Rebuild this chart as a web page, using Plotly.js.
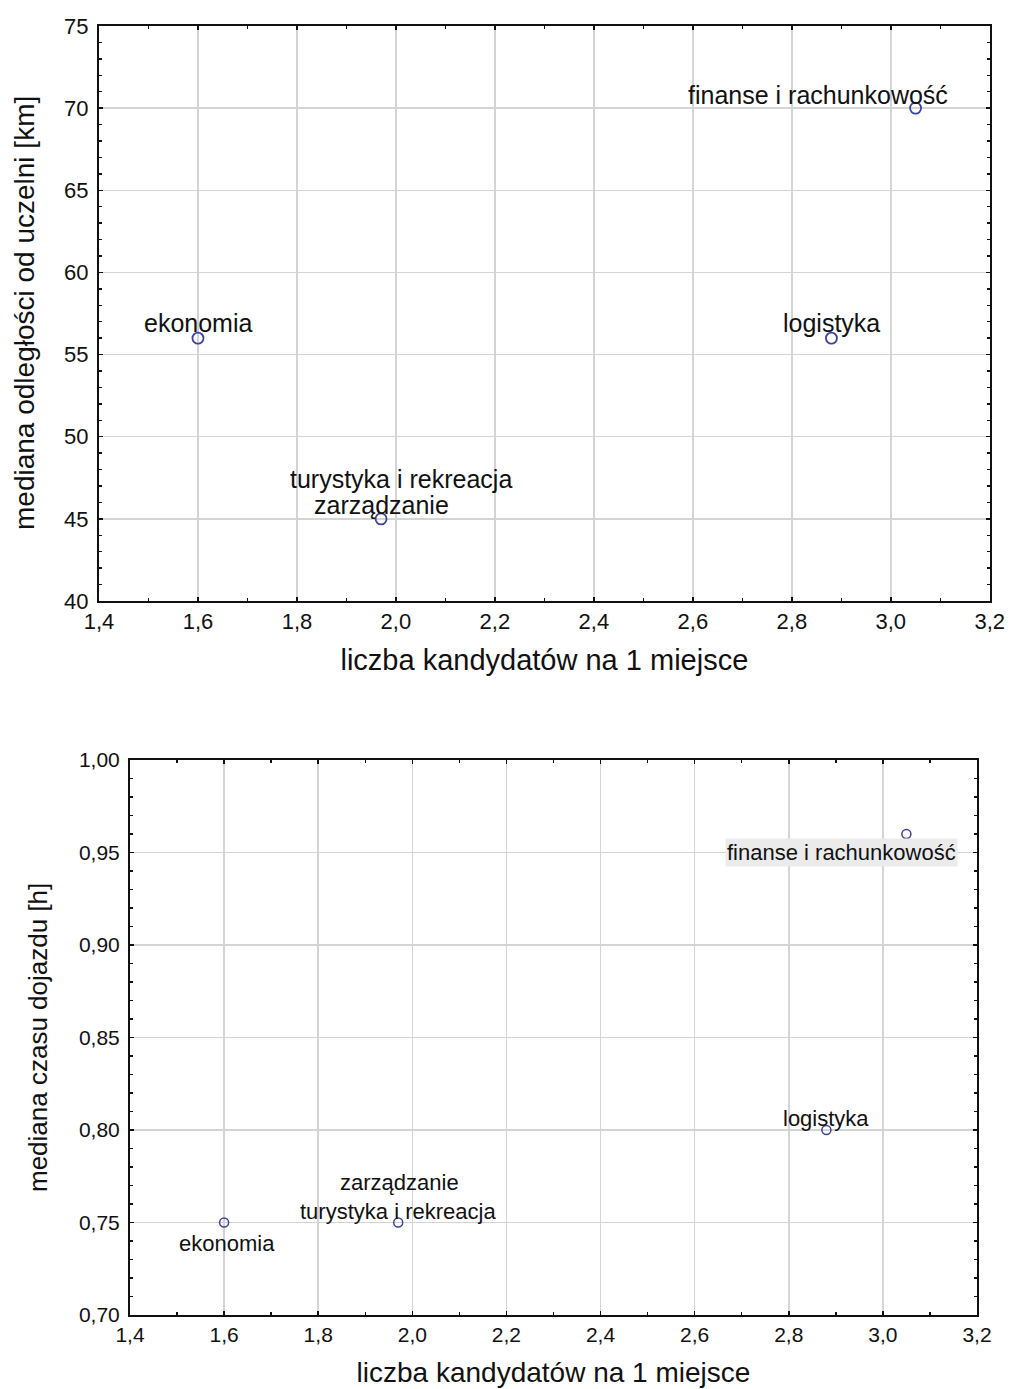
<!DOCTYPE html>
<html><head><meta charset="utf-8">
<script src="https://cdn.plot.ly/plotly-3.0.1.min.js"></script>
<style>body{margin:0;background:#fff}#c{width:1010px;height:1389px}</style>
</head><body><div id="c"></div>
<script>
const kierunki = ["ekonomia", "turystyka i rekreacja<br>zarządzanie", "logistyka", "finanse i rachunkowość"];
const kierunkiDol = ["ekonomia", "zarządzanie<br>turystyka i rekreacja", "logistyka", "finanse i rachunkowość"];
const kandydaci = [1.60, 1.97, 2.88, 3.05];
const odleglosc = [56, 45, 56, 70];
const czas = [0.75, 0.75, 0.80, 0.96];
const tytulX = "liczba kandydatów na 1 miejsce";
const tytulY1 = "mediana odległości od uczelni [km]";
const tytulY2 = "mediana czasu dojazdu [h]";

const font = "Liberation Sans, Arial, sans-serif";
const mcol = "#3c44a0";

const traces = [
  {x: kandydaci, y: odleglosc, mode: "markers", type: "scatter", xaxis: "x", yaxis: "y",
   marker: {symbol: "circle-open", size: 11, color: mcol, line: {width: 1.8, color: mcol}}, hoverinfo: "none"},
  {x: kandydaci, y: czas, mode: "markers", type: "scatter", xaxis: "x2", yaxis: "y2",
   marker: {symbol: "circle-open", size: 9, color: mcol, line: {width: 1.5, color: mcol}}, hoverinfo: "none"}
];

// label offsets per line (styling only): [xshift, yshift] for each line
const topShift = [[[0, 15]], [[20, 40], [0, 14]], [[0, 15]], [[-98, 13]]];
const botShift = [[[3, -21]], [[1, 40], [0, 11]], [[0, 12]], [[-65, -18]]];
const annotations = [];
kierunki.forEach((t, i) => {
  t.split("<br>").forEach((line, j) => {
    annotations.push({x: kandydaci[i], y: odleglosc[i], xref: "x", yref: "y", text: line, showarrow: false,
      xshift: topShift[i][j][0], yshift: topShift[i][j][1], font: {family: font, size: 25, color: "#111"}});
  });
});
kierunkiDol.forEach((t, i) => {
  t.split("<br>").forEach((line, j) => {
    const a = {x: kandydaci[i], y: czas[i], xref: "x2", yref: "y2", text: line, showarrow: false,
      xshift: botShift[i][j][0], yshift: botShift[i][j][1], font: {family: font, size: 22, color: "#111"}};
    if (i === 3) { a.bgcolor = "#ebebeb"; }
    annotations.push(a);
  });
});
// y-axis titles
annotations.push({xref: "paper", yref: "paper", x: 0.0248, y: 0.7747, xanchor: "center", yanchor: "middle",
  textangle: -90, showarrow: false, text: tytulY1, font: {family: font, size: 28, color: "#111"}});
annotations.push({xref: "paper", yref: "paper", x: 0.0376, y: 0.2534, xanchor: "center", yanchor: "middle",
  textangle: -90, showarrow: false, text: tytulY2, font: {family: font, size: 26, color: "#111"}});

function xax(dom, anchor, tsize, titleSize, standoff) {
  return {domain: dom, anchor: anchor, range: [1.4, 3.2], dtick: 0.2, tick0: 1.4, tickformat: ".1f",
    showgrid: true, gridcolor: "#d4d4d4", gridwidth: 1.5, zeroline: false,
    showline: true, linecolor: "#111", linewidth: 2, mirror: "allticks",
    ticks: "inside", ticklen: 4, tickcolor: "#111", tickwidth: 1.5,
    minor: {dtick: 0.1, ticks: "inside", ticklen: 3, tickcolor: "#111", showgrid: false},
    tickfont: {family: font, size: tsize, color: "#111"},
    title: {text: tytulX, font: {family: font, size: titleSize, color: "#111"}, standoff: standoff}};
}

const layout = {
  width: 1010, height: 1389, margin: {l: 0, r: 0, t: 0, b: 0},
  paper_bgcolor: "#fff", plot_bgcolor: "#fff", showlegend: false, separators: ", ",
  xaxis: xax([0.098, 0.980], "y", 22, 29, 16),
  yaxis: {domain: [0.5673, 0.9813], anchor: "x", range: [40, 75], dtick: 5, tick0: 40,
    showgrid: true, gridcolor: "#d4d4d4", gridwidth: 1.5, zeroline: false,
    showline: true, linecolor: "#111", linewidth: 2, mirror: "allticks",
    ticks: "inside", ticklen: 4, tickcolor: "#111", tickwidth: 1.5, ticklabelstandoff: 4,
    minor: {dtick: 1, ticks: "inside", ticklen: 3, tickcolor: "#111", showgrid: false},
    tickfont: {family: font, size: 22, color: "#111"}},
  xaxis2: xax([0.1287, 0.9673], "y2", 21, 28, 17),
  yaxis2: {domain: [0.0533, 0.4528], anchor: "x2", range: [0.70, 1.00], dtick: 0.05, tick0: 0.70, tickformat: ".2f",
    showgrid: true, gridcolor: "#d4d4d4", gridwidth: 1.5, zeroline: false,
    showline: true, linecolor: "#111", linewidth: 2, mirror: "allticks",
    ticks: "inside", ticklen: 4, tickcolor: "#111", tickwidth: 1.5, ticklabelstandoff: 4,
    minor: {dtick: 0.01, ticks: "inside", ticklen: 3, tickcolor: "#111", showgrid: false},
    tickfont: {family: font, size: 21, color: "#111"}},
  annotations: annotations
};

Plotly.newPlot("c", traces, layout, {displayModeBar: false, staticPlot: true});
</script>
</body></html>
